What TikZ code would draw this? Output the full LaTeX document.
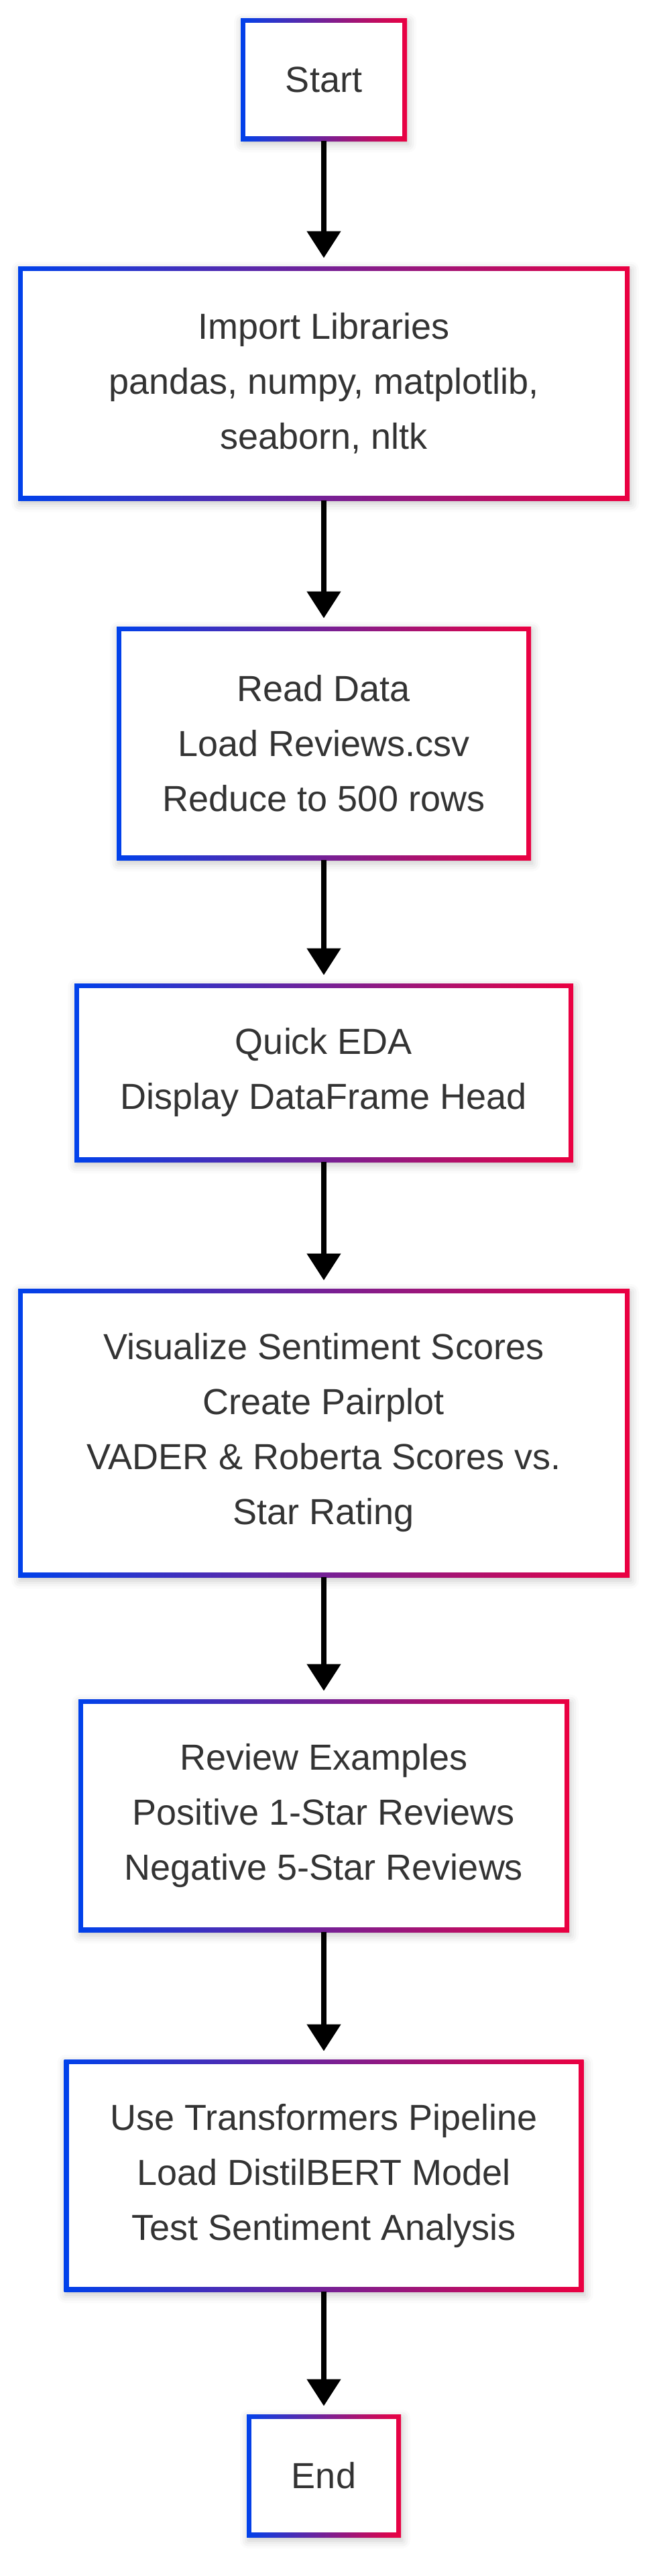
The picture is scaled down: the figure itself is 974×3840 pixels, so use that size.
\documentclass[tikz,border=0pt]{standalone}
\usepackage{fontspec}
\setmainfont{Liberation Sans}
\usetikzlibrary{arrows.meta,shadows.blur}
\definecolor{gblue}{RGB}{0,65,235}
\definecolor{gred}{RGB}{235,0,65}
\definecolor{txt}{RGB}{51,51,51}
\tikzset{
  box/.style={rectangle, inner sep=0pt, align=center, text=txt,
    font=\fontsize{27}{41}\selectfont,
    left color=gblue, right color=gred,
    blur shadow={shadow xshift=1pt, shadow yshift=-2.5pt, shadow blur radius=6pt, shadow opacity=22},
    path picture={\fill[white] ([xshift=3.6pt,yshift=3.6pt]path picture bounding box.south west) rectangle ([xshift=-3.6pt,yshift=-3.6pt]path picture bounding box.north east);}},
  flow/.style={line width=4pt, black, -{Triangle[length=20pt,width=24.5pt]}, shorten >=6pt}
}
\begin{document}
\begin{tikzpicture}[x=0.5pt,y=-0.5pt]
\useasboundingbox (0,0) rectangle (974,3840);
\node[box, minimum width=124pt, minimum height=91.5pt] (start) at (483,118.5) {Start};
\node[box, minimum width=456pt, minimum height=174.5pt] (import) at (483,571.5) {Import Libraries\\pandas, numpy, matplotlib,\\seaborn, nltk};
\node[box, minimum width=309pt, minimum height=174pt] (read) at (483,1108) {Read Data\\Load Reviews.csv\\Reduce to 500 rows};
\node[box, minimum width=372pt, minimum height=133pt] (eda) at (483,1599) {Quick EDA\\Display DataFrame Head};
\node[box, minimum width=456pt, minimum height=215pt] (vis) at (483,2136) {Visualize Sentiment Scores\\Create Pairplot\\VADER \& Roberta Scores vs.\\Star Rating};
\node[box, minimum width=366pt, minimum height=173.5pt] (rev) at (483,2706.5) {Review Examples\\Positive 1-Star Reviews\\Negative 5-Star Reviews};
\node[box, minimum width=387.5pt, minimum height=173pt] (trans) at (483,3243) {Use Transformers Pipeline\\Load DistilBERT Model\\Test Sentiment Analysis};
\node[box, minimum width=115pt, minimum height=91.5pt] (end) at (483,3690.5) {End};
\draw[flow] (start.south) -- (import.north);
\draw[flow] (import.south) -- (read.north);
\draw[flow] (read.south) -- (eda.north);
\draw[flow] (eda.south) -- (vis.north);
\draw[flow] (vis.south) -- (rev.north);
\draw[flow] (rev.south) -- (trans.north);
\draw[flow] (trans.south) -- (end.north);
\end{tikzpicture}
\end{document}
